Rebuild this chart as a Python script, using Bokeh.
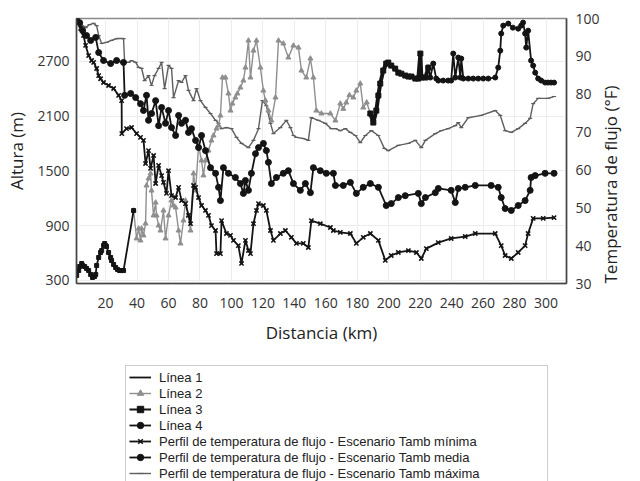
import math
from bokeh.plotting import figure
from bokeh.layouts import column
from bokeh.models import Range1d, LinearAxis, Legend, LegendItem, FixedTicker
from bokeh.embed import file_html
from bokeh.resources import INLINE

FONT = "Open Sans"
LFONT = "Liberation Sans"

# ---------------- data ----------------
x_ticks = [20, 40, 60, 80, 100, 120, 140, 160, 180, 200, 220, 240, 260, 280, 300]
alt_ticks = [300, 900, 1500, 2100, 2700]
temp_ticks = [30, 40, 50, 60, 70, 80, 90, 100]

km_l1 = [1.6, 2.9, 3.5, 4.8, 5.4, 6.7, 7.9, 9.2, 10.5, 11.7, 13.0, 13.7, 14.3, 15.6, 16.8,
         17.5, 18.7, 19.4, 20.0, 20.6, 21.9, 23.2, 23.8, 25.1, 26.4, 27.6, 28.9, 30.2, 31.4, 37.8]
alt_l1 = [355, 409, 453, 486, 464, 453, 431, 409, 366, 333, 344, 366, 464, 552, 606,
          628, 683, 705, 683, 672, 606, 552, 519, 475, 442, 420, 409, 409, 409, 1066]

km_l2 = [37.8, 39.7, 41.0, 42.2, 42.9, 44.1, 45.4, 46.0, 47.3, 48.6, 49.2, 50.5, 51.8, 52.4,
         53.7, 54.9, 56.8, 58.1, 60.0, 61.9, 63.2, 64.5, 66.4, 67.6, 69.5, 70.8, 72.7, 74.0,
         75.9, 77.2, 79.1, 81.0, 82.2, 83.5, 85.4, 87.3, 88.6, 90.5, 91.8, 93.0, 94.3, 96.2,
         98.1, 99.4, 100.6, 102.5, 103.8, 105.7, 107.6, 108.9, 110.8, 112.1, 114.0, 115.9,
         118.4, 120.3, 121.6, 123.5, 125.4, 128.0, 129.9, 133.0, 136.2, 139.4, 142.6, 144.5,
         147.6, 150.2, 152.1, 154.0, 157.2, 162.9, 166.1, 169.2, 171.1, 173.0, 175.0, 177.5,
         179.4, 181.9, 183.8, 186.0, 188.3]
alt_l2 = [1066, 760, 869, 738, 869, 793, 924, 1340, 1417, 1472, 1285, 1012, 1154, 1012,
          902, 847, 1066, 760, 1012, 1176, 1121, 1099, 847, 705, 957, 1176, 1012, 847,
          1472, 1285, 1778, 1614, 1450, 1614, 1723, 1833, 1888, 1964, 1997, 2107, 2523, 2523,
          2348, 2161, 2238, 2304, 2348, 2413, 2490, 2632, 2928, 2523, 2818, 2928,
          2632, 2380, 2271, 2161, 2052, 2304, 2928, 2895, 2742, 2873, 2851, 2599,
          2523, 2731, 2523, 2161, 2129, 2129, 2052, 2238, 2180, 2249, 2330, 2304,
          2380, 2457, 2194, 2250, 2129]

km_l3 = [188.3, 190.2, 192.1, 193.4, 194.6, 196.5, 198.4, 199.7, 201.6, 204.1, 206.1, 208.0,
         210.5, 212.5, 214.4, 216.9, 218.8, 220.1, 220.7, 223.3, 225.2]
alt_l3 = [2129, 2030, 2161, 2326, 2457, 2599, 2676, 2687, 2654, 2621, 2577, 2566,
          2545, 2534, 2534, 2512, 2512, 2786, 2523, 2523, 2632]

km_l4 = [225.2, 226.4, 228.3, 230.2, 231.5, 234.6, 237.8, 239.7, 241.0, 242.3, 244.2, 245.5,
         246.1, 247.4, 250.6, 253.7, 256.9, 260.1, 263.3, 267.7, 269.6, 270.9, 271.5, 272.8,
         276.0, 278.9, 282.3, 284.2, 285.4, 286.7, 287.4, 288.6, 290.5, 291.8, 293.1, 295.0,
         296.9, 299.4, 301.3, 303.2, 305.1]
alt_l4 = [2632, 2523, 2676, 2512, 2490, 2490, 2490, 2490, 2786, 2523, 2742, 2523,
          2731, 2512, 2512, 2512, 2512, 2512, 2512, 2523, 2632, 2818, 3005, 3092,
          3114, 3070, 3059, 3092, 3125, 3005, 2851, 3037, 2709, 2654, 2577, 2512,
          2490, 2468, 2468, 2468, 2468]

km_tmin = [1.6, 2.9, 4.1, 6.0, 7.3, 9.2, 11.1, 12.4, 14.3, 15.6, 16.8, 18.7, 21.9, 25.1, 28.3,
           30.2, 30.3, 33.3, 36.5, 39.7, 42.2, 44.1, 45.4, 47.3, 48.6, 50.5, 51.8, 53.7, 55.6,
           56.8, 58.7, 60.0, 61.9, 64.5, 66.4, 68.3, 70.8, 72.7, 74.0, 75.9, 77.2, 79.1, 81.0,
           83.5, 85.4, 87.3, 89.9, 90.5, 93.0, 93.7, 96.8, 99.4, 101.3, 104.4, 106.4, 108.9,
           110.8, 112.1, 114.0, 115.9, 117.2, 120.3, 122.2, 124.8, 126.7, 131.1, 134.3, 138.1,
           141.3, 145.7, 148.9, 150.8, 156.5, 162.9, 164.8, 169.2, 175.6, 179.4, 183.8, 188.3,
           193.4, 197.8, 201.6, 206.1, 212.5, 217.6, 220.7, 223.9, 231.5, 239.7, 248.6, 255.0,
           267.7, 271.5, 274.0, 277.9, 282.3, 286.7, 288.6, 291.8, 298.2, 305.1]
t_min = [100.0, 98.9, 97.4, 95.5, 92.9, 90.2, 88.9, 88.4, 86.8, 84.9, 84.1, 83.1, 82.3, 81.5, 79.7,
         78.3, 69.6, 70.9, 71.2, 69.6, 68.6, 67.8, 61.7, 65.1, 60.4, 63.8, 56.4, 61.2, 58.5,
         56.7, 53.8, 59.8, 53.2, 52.7, 55.4, 51.9, 51.1, 48.0, 45.8, 55.9, 55.4, 52.7, 50.6,
         49.3, 48.0, 45.3, 44.0, 37.9, 37.9, 46.6, 43.2, 42.7, 41.4, 40.0, 35.3, 41.4,
         38.7, 37.9, 45.8, 49.3, 51.1, 50.6, 49.3, 44.0, 41.4, 43.2, 44.0, 42.2,
         40.6, 40.6, 39.5, 46.6, 45.8, 44.8, 44.0, 43.5, 43.2, 40.6, 42.2, 43.2,
         41.4, 36.1, 37.4, 38.2, 38.7, 38.2, 36.6, 39.2, 40.8, 41.9, 42.4, 43.2,
         43.2, 40.0, 37.4, 36.6, 38.2, 40.0, 43.2, 47.2, 47.2, 47.4]

km_tmed = [1.6, 3.5, 5.4, 7.9, 10.5, 13.7, 15.6, 18.7, 23.2, 27.0, 31.4, 32.1, 35.9, 39.1, 42.2,
           44.1, 46.0, 47.3, 49.2, 51.8, 53.7, 55.6, 58.1, 60.0, 61.9, 64.5, 66.4, 68.3, 70.8,
           72.7, 74.6, 77.2, 79.1, 81.0, 83.5, 86.7, 89.9, 91.8, 93.0, 94.9, 98.1, 102.5, 105.7,
           107.6, 108.9, 110.8, 112.7, 115.3, 117.2, 120.3, 122.2, 123.5, 125.4, 128.6, 133.0,
           136.2, 139.4, 143.8, 147.0, 150.2, 152.1, 156.5, 160.3, 164.8, 166.1, 171.1, 175.6,
           179.4, 183.8, 188.3, 193.4, 198.4, 201.6, 206.1, 210.5, 218.8, 220.7, 223.3, 229.6,
           231.5, 239.7, 242.3, 244.2, 248.6, 255.0, 265.1, 269.6, 271.5, 274.0, 277.9, 282.3,
           286.7, 289.9, 290.5, 293.1, 299.4, 305.1]
t_med = [100.0, 98.9, 96.8, 95.5, 94.2, 95.0, 91.0, 88.9, 88.1, 88.9, 88.4, 79.7, 80.2, 79.1, 77.5,
         75.7, 79.7, 73.1, 74.9, 78.3, 71.7, 76.5, 72.3, 75.7, 71.2, 69.1, 74.4, 72.3, 73.1,
         69.9, 70.9, 67.8, 65.9, 69.1, 65.1, 60.6, 59.1, 55.4, 51.9, 60.6, 59.1, 58.0, 56.4,
         53.8, 57.2, 54.6, 59.1, 64.3, 65.9, 67.0, 65.1, 62.0, 56.4, 58.0, 59.1,
         59.8, 56.4, 54.6, 56.4, 54.0, 60.6, 59.8, 59.1, 59.1, 55.9, 55.9, 56.7,
         53.8, 55.4, 56.4, 55.4, 50.6, 51.1, 52.7, 53.2, 53.8, 51.1, 52.7, 54.0,
         55.1, 54.6, 51.4, 55.1, 55.4, 55.9, 55.9, 55.4, 52.7, 49.8, 49.3, 50.6,
         51.9, 54.6, 58.0, 58.5, 59.1, 59.1]

km_tmax = [1.6, 2.9, 4.1, 6.0, 7.3, 9.8, 12.4, 14.3, 15.6, 17.5, 20.6, 23.8, 27.0, 31.4, 32.1,
           34.6, 36.5, 39.1, 41.0, 42.9, 44.8, 47.3, 49.2, 51.1, 53.7, 55.6, 57.5, 60.0, 61.9,
           63.2, 66.4, 68.3, 70.8, 72.7, 75.9, 77.8, 80.3, 83.5, 86.7, 89.9, 91.8, 93.7, 96.8,
           100.0, 103.2, 106.4, 110.8, 114.0, 117.2, 119.7, 122.2, 124.8, 126.7, 131.1, 134.9,
           137.5, 139.4, 141.3, 145.7, 148.9, 150.8, 155.3, 159.7, 163.5, 166.1, 169.2, 172.4,
           175.6, 178.8, 181.9, 185.1, 188.9, 193.4, 197.2, 199.7, 206.1, 212.5, 216.9, 220.7,
           223.3, 229.6, 233.4, 237.8, 242.3, 244.2, 246.1, 250.6, 258.8, 267.7, 270.9, 274.0,
           277.9, 282.3, 286.7, 289.9, 291.8, 295.0, 301.3, 305.1]
t_max = [100.0, 99.5, 98.9, 97.9, 97.6, 98.4, 98.7, 98.1, 95.5, 93.4, 93.7, 94.2, 94.7, 94.7, 88.4,
         88.4, 88.9, 88.4, 87.1, 86.8, 83.6, 84.9, 82.3, 84.9, 86.8, 88.4, 81.5, 87.6, 86.8,
         79.1, 83.6, 83.1, 84.9, 81.0, 78.3, 81.5, 78.3, 76.5, 74.9, 73.1, 72.3, 70.9, 71.2,
         70.9, 68.6, 67.0, 65.9, 67.8, 70.9, 78.3, 77.0, 72.3, 69.6, 71.2, 73.1,
         71.2, 69.1, 68.6, 68.3, 67.8, 73.8, 73.1, 72.3, 70.9, 70.9, 70.4, 70.9,
         69.9, 69.1, 67.2, 69.1, 70.4, 69.1, 65.7, 65.1, 66.5, 67.0, 67.8, 65.9,
         67.8, 69.6, 70.4, 70.9, 71.7, 72.5, 71.2, 73.8, 74.4, 75.7, 74.4, 70.4,
         69.9, 70.9, 72.3, 73.6, 77.5, 78.9, 78.9, 79.4]

labels = ["Línea 1", "Línea 2", "Línea 3", "Línea 4",
          "Perfil de temperatura de flujo - Escenario Tamb mínima",
          "Perfil de temperatura de flujo - Escenario Tamb media",
          "Perfil de temperatura de flujo - Escenario Tamb máxima"]

BLACK = "#141414"
GRAY = "#8f8f8f"
DGRAY = "#5e5e5e"

STY = {
    "max": dict(lc=DGRAY, lw=1.4, marker="dash", ms=4, mfill=None, mlw=1.2),
    "l2": dict(lc=GRAY, lw=1.4, marker="triangle", ms=5, mfill=GRAY, mlw=1),
    "l1": dict(lc=BLACK, lw=1.8, marker="square", ms=4, mfill=BLACK, mlw=1),
    "l3": dict(lc=BLACK, lw=4, marker="square", ms=5, mfill=BLACK, mlw=1),
    "l4": dict(lc=BLACK, lw=1.8, marker="circle", ms=5, mfill=BLACK, mlw=1),
    "min": dict(lc=BLACK, lw=1.8, marker="x", ms=6, mfill=None, mlw=1.6),
    "med": dict(lc=BLACK, lw=1.8, marker="circle", ms=6, mfill=BLACK, mlw=1),
}

def draw(fig, key, xs, ys, lw=None, marker=True, **kw):
    s = STY[key]
    rends = [fig.line(xs, ys, line_color=s["lc"], line_width=lw or s["lw"], **kw)]
    if marker:
        rends.append(fig.scatter(xs, ys, marker=s["marker"], size=s["ms"],
                                 fill_color=s["mfill"], line_color=s["lc"],
                                 line_width=s["mlw"], **kw))
    return rends

# ---------------- main figure ----------------
p = figure(frame_width=490, frame_height=265, output_backend="svg", toolbar_location=None,
           x_range=Range1d(1.5, 313), y_range=Range1d(267, 3170),
           min_border_left=76, min_border_right=60, min_border_top=18, min_border_bottom=70,
           background_fill_color="white", border_fill_color="white")
p.extra_y_ranges = {"temp": Range1d(30, 100)}
p.outline_line_color = "#8a8a8a"
p.outline_line_width = 1.5

GRID = "#ececec"
p.xgrid.ticker = FixedTicker(ticks=x_ticks)
p.ygrid.ticker = FixedTicker(ticks=alt_ticks)
p.xgrid.grid_line_color = GRID
p.ygrid.grid_line_color = GRID

def style_axis(ax):
    ax.axis_line_color = "#444444"
    ax.axis_line_width = 1.5
    ax.major_tick_line_color = None
    ax.minor_tick_line_color = None
    ax.major_tick_out = 0
    ax.major_tick_in = 0
    ax.major_label_text_font = FONT
    ax.major_label_text_font_size = "14px"
    ax.major_label_text_color = "#333333"
    ax.axis_label_text_font = FONT
    ax.axis_label_text_font_size = "17px"
    ax.axis_label_text_font_style = "normal"
    ax.axis_label_text_color = "#222222"

xa = p.xaxis[0]
xa.ticker = FixedTicker(ticks=x_ticks)
xa.axis_label = "Distancia (km)"
style_axis(xa)
xa.major_label_standoff = 14
xa.axis_label_standoff = 10

ya = p.yaxis[0]
ya.ticker = FixedTicker(ticks=alt_ticks)
ya.axis_label = "Altura (m)"
style_axis(ya)
ya.major_label_standoff = 7
ya.axis_label_standoff = 6

ra = LinearAxis(y_range_name="temp", ticker=FixedTicker(ticks=temp_ticks),
                axis_label="Temperatura de flujo (°F)")
style_axis(ra)
ra.major_label_standoff = 9
ra.axis_label_standoff = 8
if "axis_label_orientation" in ra.properties():
    ra.axis_label_orientation = math.pi / 2
    if "axis_label_align" in ra.properties():
        try:
            ra.axis_label_align = "start"
        except Exception:
            pass
p.add_layout(ra, "right")

draw(p, "max", km_tmax, t_max, y_range_name="temp")
draw(p, "l2", km_l2, alt_l2)
draw(p, "l1", km_l1, alt_l1)
draw(p, "l3", km_l3, alt_l3)
draw(p, "l4", km_l4, alt_l4)
draw(p, "min", km_tmin, t_min, y_range_name="temp")
draw(p, "med", km_tmed, t_med, y_range_name="temp")

# ---------------- legend panel (below the chart) ----------------
# Same series drawn again in a small figure whose ranges exclude all of them,
# so only the legend is visible there.
lg = figure(frame_width=490, frame_height=131, output_backend="svg", toolbar_location=None,
            x_range=Range1d(0, 1), y_range=Range1d(0, 1),
            x_axis_location=None, y_axis_location=None,
            min_border_left=76, min_border_right=60, min_border_top=0, min_border_bottom=0,
            outline_line_color=None, background_fill_color="white", border_fill_color="white")
lg.grid.visible = False

series = [("l1", km_l1, alt_l1), ("l2", km_l2, alt_l2), ("l3", km_l3, alt_l3),
          ("l4", km_l4, alt_l4), ("min", km_tmin, t_min), ("med", km_tmed, t_med),
          ("max", km_tmax, t_max)]
items = []
for (key, xs, ys), lab in zip(series, labels):
    rends = draw(lg, key, xs, ys, lw=min(STY[key]["lw"], 2), marker=(key != "l1"))
    items.append(LegendItem(label=lab, renderers=rends))

legend = Legend(items=items, location=(49, -1), orientation="vertical",
                label_text_font=LFONT, label_text_font_size="13px", label_text_color="#222222",
                glyph_width=22, glyph_height=16, label_height=16, label_standoff=8,
                label_width=385, spacing=0, padding=3, margin=0,
                border_line_color="#9a9a9a", border_line_width=1,
                background_fill_color="white", background_fill_alpha=1.0)
lg.add_layout(legend, "center")

layout = column(p, lg, spacing=0)
open("out.html", "w").write(file_html(layout, INLINE))
